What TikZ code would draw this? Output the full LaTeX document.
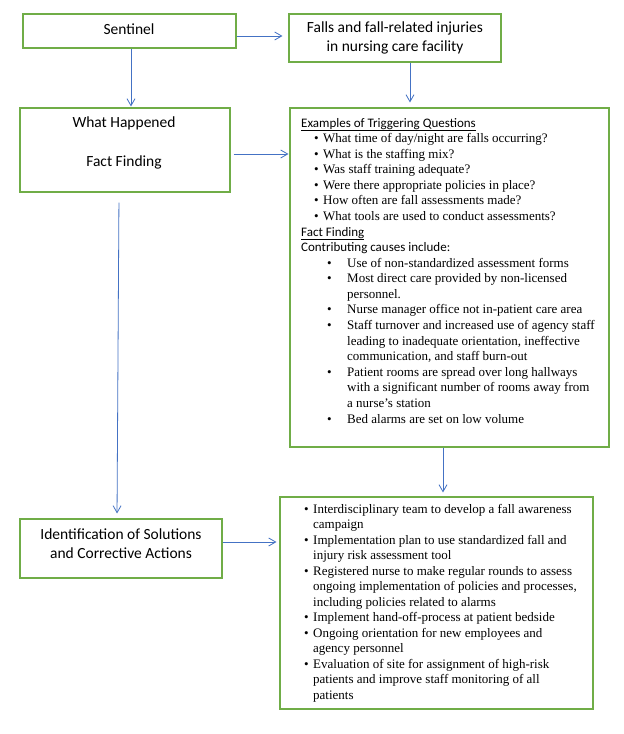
\documentclass[tikz,border=0pt]{standalone}
\usepackage{fontspec}
\setmainfont{Liberation Serif}
\setsansfont{Carlito}
\usetikzlibrary{arrows.meta}
\definecolor{boxgreen}{HTML}{70AD47}
\definecolor{arrowblue}{HTML}{4472C4}
\newcommand\nl{\hfil\break}
\newcommand\qitem[1]{\par\noindent\hspace*{13pt}\makebox[9pt][l]{•}#1}
\newcommand\citem[1]{\par\noindent\hangindent=46pt\hangafter=1\hspace*{26pt}\makebox[20pt][l]{•}#1}
\newcommand\sitem[1]{\par\noindent\hangindent=9pt\hangafter=1\makebox[9pt][l]{•}#1}
\begin{document}
\begin{tikzpicture}[x=1pt,y=-1pt,
  box/.style={draw=boxgreen, line width=1.1pt, inner sep=0pt},
  lbl/.style={font=\fontsize{15.5}{19}\selectfont\sffamily, align=center, inner sep=0pt},
  link/.style={draw=arrowblue, line width=0.8pt, -{Straight Barb[length=7pt,width=8pt,line width=0.8pt]}}]
\useasboundingbox[fill=white] (0,0) rectangle (624,734);

% boxes
\node[box, minimum width=213pt, minimum height=34pt] (sent) at (129.5,31) {};
\node[box, minimum width=212pt, minimum height=48pt] (falls) at (395,38) {};
\node[box, minimum width=210pt, minimum height=84pt] (wh) at (125,150) {};
\node[box, minimum width=319pt, minimum height=339pt] (ex) at (449.5,277.5) {};
\node[box, minimum width=202pt, minimum height=59pt] (id) at (121,548.5) {};
\node[box, minimum width=313pt, minimum height=212pt] (sol) at (436.5,603) {};

% labels
\node[lbl] (senttxt) at (129,29.5) {Sentinel};
\node[lbl] (fallstxt) at (395,38) {Falls and fall-related injuries\\in nursing care facility};
\node[lbl] (whtxt) at (124,142.5) {What Happened\\[20pt]Fact Finding};
\node[lbl] (idtxt) at (121,543.5) {Identification of Solutions\\and Corrective Actions};

\node[anchor=base west, inner sep=0pt] (extxt) at (301,127) {%
\begin{minipage}[t]{305pt}\fontsize{13}{15.58}\selectfont
\noindent{\sffamily\underline{Examples of Triggering Questions}}
\qitem{What time of day/night are falls occurring?}
\qitem{What is the staffing mix?}
\qitem{Was staff training adequate?}
\qitem{Were there appropriate policies in place?}
\qitem{How often are fall assessments made?}
\qitem{What tools are used to conduct assessments?}
\par\noindent{\sffamily\underline{Fact Finding}}
\par\noindent{\sffamily Contributing causes include:}
\citem{Use of non-standardized assessment forms}
\citem{Most direct care provided by non-licensed\nl personnel.}
\citem{Nurse manager office not in-patient care area}
\citem{Staff turnover and increased use of agency staff\nl leading to inadequate orientation, ineffective\nl communication, and staff burn-out}
\citem{Patient rooms are spread over long hallways\nl with a significant number of rooms away from\nl a nurse’s station}
\citem{Bed alarms are set on low volume}
\par
\end{minipage}};

\node[anchor=base west, inner sep=0pt] (soltxt) at (304,513) {%
\begin{minipage}[t]{285pt}\fontsize{13}{15.5}\selectfont
\sitem{Interdisciplinary team to develop a fall awareness\nl campaign}
\sitem{Implementation plan to use standardized fall and\nl injury risk assessment tool}
\sitem{Registered nurse to make regular rounds to assess\nl ongoing implementation of policies and processes,\nl including policies related to alarms}
\sitem{Implement hand-off-process at patient bedside}
\sitem{Ongoing orientation for new employees and\nl agency personnel}
\sitem{Evaluation of site for assignment of high-risk\nl patients and improve staff monitoring of all\nl patients}
\par
\end{minipage}};

% connectors
\draw[link, shorten >=6pt] ([yshift=-5pt]sent.east) -- ([yshift=2pt]falls.west);
\draw[link, shorten >=1pt] ([xshift=1.5pt]sent.south) -- ([xshift=6pt]wh.north);
\draw[link, shorten >=5pt] ([xshift=15pt]falls.south) -- ([xshift=-39.5pt]ex.north);
\draw[link, shorten <=3pt, shorten >=1pt] ([yshift=-4pt]wh.east) -- ([yshift=123.5pt]ex.west);
\draw[link, shorten <=10pt, shorten >=5pt] ([xshift=-6pt]wh.south) -- ([xshift=-4pt]id.north);
\draw[link, shorten >=4pt] ([xshift=-6.5pt]ex.south) -- ([xshift=6.5pt]sol.north);
\draw[link, shorten >=3pt] ([yshift=6.5pt]id.east) -- ([yshift=61pt]sol.west);
\end{tikzpicture}
\end{document}
